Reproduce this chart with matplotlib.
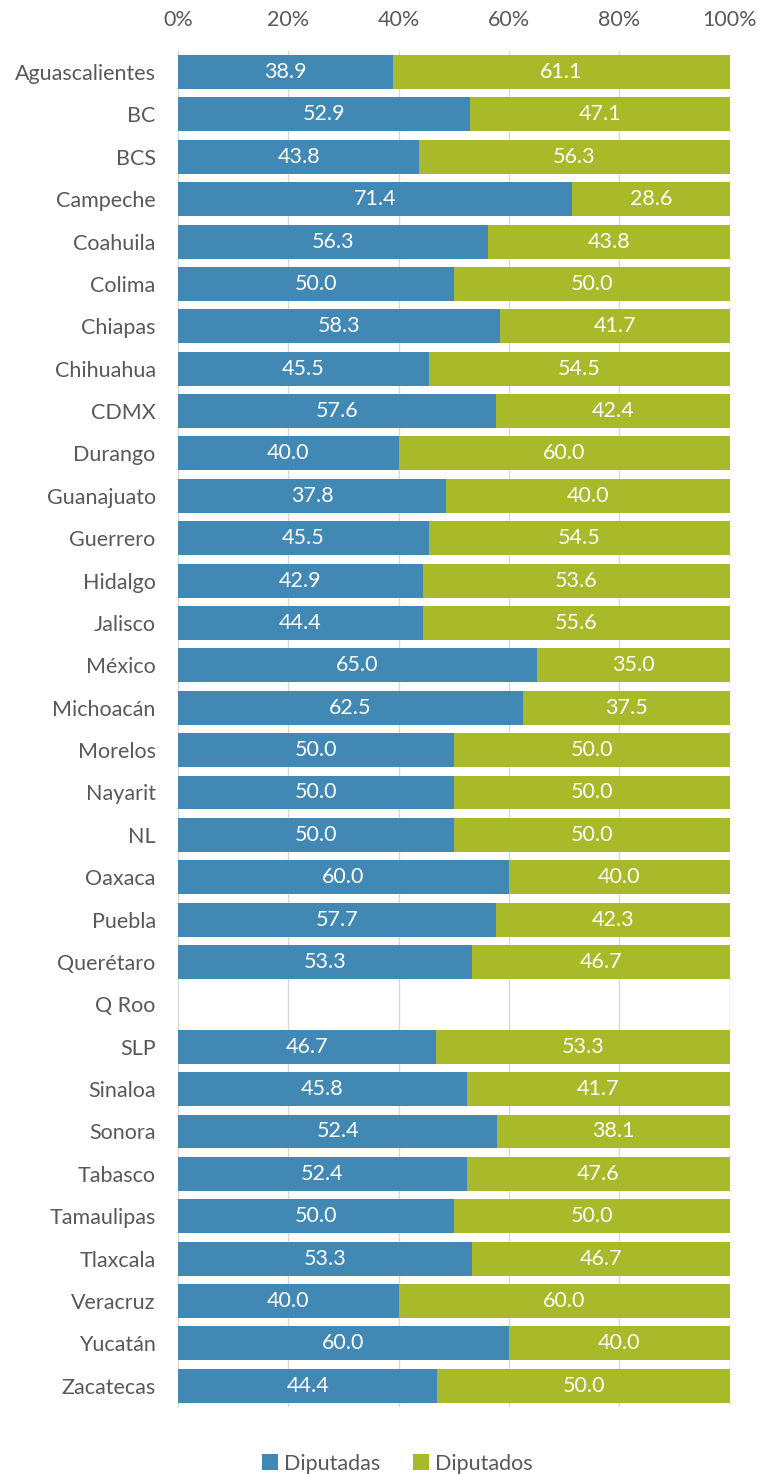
import numpy as np
import matplotlib.pyplot as plt

plt.rcParams['font.family'] = ['Lato', 'DejaVu Sans']

estados = ['Aguascalientes', 'BC', 'BCS', 'Campeche', 'Coahuila', 'Colima',
           'Chiapas', 'Chihuahua', 'CDMX', 'Durango', 'Guanajuato', 'Guerrero',
           'Hidalgo', 'Jalisco', 'México', 'Michoacán', 'Morelos', 'Nayarit',
           'NL', 'Oaxaca', 'Puebla', 'Querétaro', 'Q Roo', 'SLP', 'Sinaloa',
           'Sonora', 'Tabasco', 'Tamaulipas', 'Tlaxcala', 'Veracruz', 'Yucatán',
           'Zacatecas']
diputadas = [38.9, 52.9, 43.8, 71.4, 56.3, 50.0, 58.3, 45.5, 57.6, 40.0, 37.8,
             45.5, 42.9, 44.4, 65.0, 62.5, 50.0, 50.0, 50.0, 60.0, 57.7, 53.3,
             np.nan, 46.7, 45.8, 52.4, 52.4, 50.0, 53.3, 40.0, 60.0, 44.4]
diputados = [61.1, 47.1, 56.3, 28.6, 43.8, 50.0, 41.7, 54.5, 42.4, 60.0, 40.0,
             54.5, 53.6, 55.6, 35.0, 37.5, 50.0, 50.0, 50.0, 40.0, 42.3, 46.7,
             np.nan, 53.3, 41.7, 38.1, 47.6, 50.0, 46.7, 60.0, 40.0, 50.0]

azul = '#4189B4'
verde = '#A8B92A'
gris = '#595959'
fs = 15.5

a = np.array(diputadas)
o = np.array(diputados)
tot = a + o
# barras al 100%: cada fila normalizada a su total
pa = np.where(np.isnan(tot), 0, a / tot * 100)
po = np.where(np.isnan(tot), 0, o / tot * 100)

fig = plt.figure(figsize=(7.57, 14.74), dpi=100)
ax = fig.add_axes([0.235, 0.0455, 0.729, 0.92])
y = np.arange(len(estados))
ax.barh(y, pa, height=0.8, color=azul, label='Diputadas', zorder=3)
ax.barh(y, po, left=pa, height=0.8, color=verde, label='Diputados', zorder=3)

for i in range(len(estados)):
    if np.isnan(tot[i]):
        continue
    ax.text(pa[i] / 2, y[i], f'{a[i]:.1f}', ha='center', va='center',
            color='white', fontsize=fs, zorder=4)
    ax.text(pa[i] + po[i] / 2, y[i], f'{o[i]:.1f}', ha='center', va='center',
            color='white', fontsize=fs, zorder=4)

ax.set_xlim(0, 100)
ax.set_ylim(len(estados) - 0.5, -0.5)
ax.set_yticks(y)
ax.set_yticklabels(estados)
ax.set_xticks(np.arange(0, 101, 20))
ax.set_xticklabels([f'{v}%' for v in range(0, 101, 20)])
ax.xaxis.tick_top()
ax.tick_params(axis='both', length=0, labelsize=fs, colors=gris)
ax.tick_params(axis='x', pad=15)
ax.tick_params(axis='y', pad=16)
ax.grid(axis='x', color='#D9D9D9', linewidth=1, zorder=0)
for s in ['top', 'right', 'bottom']:
    ax.spines[s].set_visible(False)
ax.spines['left'].set_color('#D9D9D9')

fig.legend(loc='lower center', bbox_to_anchor=(0.525, -0.013), ncol=2, frameon=False,
           fontsize=fs, handlelength=0.75, handleheight=0.75, handletextpad=0.3,
           columnspacing=1.5, labelcolor=gris)

fig.savefig('out.png', dpi=100)
